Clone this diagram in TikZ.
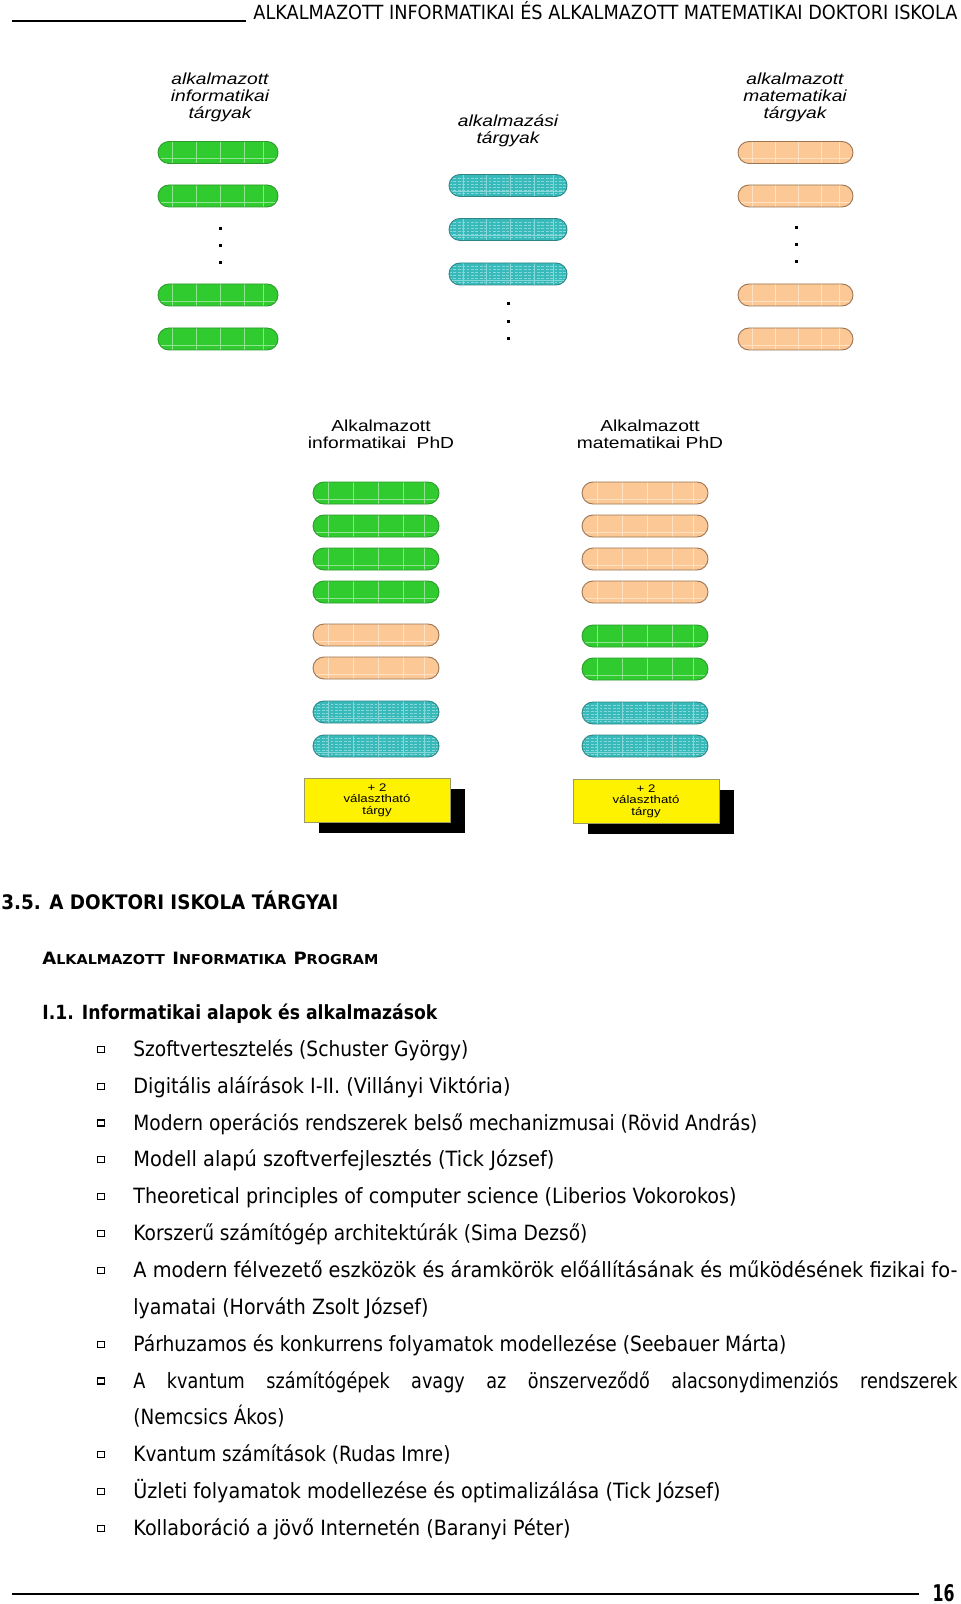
\documentclass[tikz,border=0pt]{standalone}
\usepackage{fontspec}
\usepackage{graphicx}
\usetikzlibrary{calc}
\setmainfont{DejaVu Sans}
\newfontfamily\bodyf{DejaVu Sans}[FakeStretch=0.84]
\newfontfamily\figf{Liberation Sans}[FakeStretch=1.2]
\newlength\pxu \setlength\pxu{0.5pt}
\newcommand\fitw[2]{\resizebox{#1\pxu}{\height}{#2}}
\newcommand\scpart[2]{{\fontsize{8.5}{10}\selectfont #1}{\fontsize{6.8}{8}\selectfont #2}}
\definecolor{pgreen}{HTML}{2FCB2F}
\definecolor{pgreenb}{HTML}{2E9A2E}
\definecolor{pgreenl}{HTML}{8FE48F}
\definecolor{pcyan}{HTML}{38BABA}
\definecolor{pcyanb}{HTML}{2F8585}
\definecolor{pcyanl}{HTML}{86D8D8}
\definecolor{ppeach}{HTML}{FBC896}
\definecolor{ppeachb}{HTML}{9C7452}
\definecolor{ppeachl}{HTML}{FFE2C4}
\definecolor{yboxb}{HTML}{9A9A66}
\newcommand\pillgrid[1]{%
  \foreach \f in {0.12,0.32,0.52,0.72,0.88}{%
    \draw[#1, line width=0.3pt] ($(path picture bounding box.south west)!\f!(path picture bounding box.south east)$) -- ($(path picture bounding box.north west)!\f!(path picture bounding box.north east)$);}
  \draw[#1, line width=0.3pt] ($(path picture bounding box.south west)!0.22!(path picture bounding box.north west)$) -- ($(path picture bounding box.south east)!0.22!(path picture bounding box.north east)$);}
\newcommand\cyantex{%
  \foreach \k in {0.14,0.28,0.42,0.56,0.70,0.84}{%
    \draw[pcyanl, line width=0.4pt, dash pattern=on 1.4pt off 0.8pt] ($(path picture bounding box.south west)!\k!(path picture bounding box.north west)$) -- ($(path picture bounding box.south east)!\k!(path picture bounding box.north east)$);}}
\tikzset{
  pill/.style={rectangle, rounded corners=5.5pt, minimum width=#1, minimum height=11pt, inner sep=0pt, line width=0.45pt},
  gpill/.style={pill=#1, fill=pgreen, draw=pgreenb, path picture={\pillgrid{pgreenl}}},
  gpill/.default=63pt,
  cpill/.style={pill=#1, fill=pcyan, draw=pcyanb, path picture={\cyantex\pillgrid{pcyanl}}},
  cpill/.default=63pt,
  ppill/.style={pill=#1, fill=ppeach, draw=ppeachb, path picture={\pillgrid{ppeachl}}},
  ppill/.default=63pt,
  toplab/.style={anchor=base, inner sep=0pt, font=\figf\itshape\fontsize{8}{9}\selectfont},
  midlab/.style={anchor=base, inner sep=0pt, font=\figf\fontsize{8}{9}\selectfont},
  dotmark/.style={fill=black, minimum size=1.5pt, inner sep=0pt, rectangle},
  shadowbox/.style={fill=black, minimum width=73pt, minimum height=22pt, inner sep=0pt},
  ybox/.style={fill=yellow, draw=yboxb, line width=0.5pt, minimum width=73pt, minimum height=22pt, inner sep=0pt, align=center, font=\figf\fontsize{5.5}{5.8}\selectfont},
  bodytxt/.style={anchor=base west, inner sep=0pt, font=\bodyf\fontsize{10.5}{12}\selectfont},
  headtxt/.style={anchor=base west, inner sep=0pt, font=\bodyf\bfseries\fontsize{10}{12}\selectfont},
  bul/.style={draw, line width=0.55pt, minimum width=3.3pt, minimum height=3pt, inner sep=0pt, rectangle},
  rule/.style={line width=0.8pt}
}
\begin{document}
\begin{tikzpicture}[x=0.5pt,y=-0.5pt]
\fill[white] (0,0) rectangle (960,1604);
\path[use as bounding box] (0,0) rectangle (960,1604);

% page header
\coordinate (hrA) at (12,21);
\coordinate (hrB) at (246,21);
\draw[rule] (hrA) -- (hrB);
\node[anchor=base west, inner sep=0pt, font=\bodyf\fontsize{9.75}{11}\selectfont] (hdr) at (253,20) {\fitw{704}{ALKALMAZOTT INFORMATIKAI ÉS ALKALMAZOTT MATEMATIKAI DOKTORI ISKOLA}};

% top column labels
\node[toplab] (tl1) at (220,85) {alkalmazott};
\node[toplab] (tl2) at (220,102) {informatikai};
\node[toplab] (tl3) at (220,119) {tárgyak};
\node[toplab] (tm1) at (508,127) {alkalmazási};
\node[toplab] (tm2) at (508,144) {tárgyak};
\node[toplab] (tr1) at (795,85) {alkalmazott};
\node[toplab] (tr2) at (795,102) {matematikai};
\node[toplab] (tr3) at (795,119) {tárgyak};

% top left column (green)
\node[gpill=60pt] (ag1) at (218,152.5) {};
\node[gpill=60pt] (ag2) at (218,196) {};
\node[dotmark] (agd1) at (220,229) {};
\node[dotmark] (agd2) at (220,246) {};
\node[dotmark] (agd3) at (220,263) {};
\node[gpill=60pt] (ag3) at (218,295) {};
\node[gpill=60pt] (ag4) at (218,339) {};

% top middle column (cyan)
\node[cpill=59pt] (ac1) at (508,185.5) {};
\node[cpill=59pt] (ac2) at (508,229.5) {};
\node[cpill=59pt] (ac3) at (508,274) {};
\node[dotmark] (acd1) at (508,304) {};
\node[dotmark] (acd2) at (508,322) {};
\node[dotmark] (acd3) at (508,339) {};

% top right column (peach)
\node[ppill=57.5pt] (ap1) at (795.5,152.5) {};
\node[ppill=57.5pt] (ap2) at (795.5,196) {};
\node[dotmark] (apd1) at (796,228) {};
\node[dotmark] (apd2) at (796,245) {};
\node[dotmark] (apd3) at (796,262) {};
\node[ppill=57.5pt] (ap3) at (795.5,295) {};
\node[ppill=57.5pt] (ap4) at (795.5,339) {};

% PhD labels
\node[midlab] (ml1) at (381,432) {Alkalmazott};
\node[midlab] (ml2) at (381,449) {informatikai\ \ PhD};
\node[midlab] (mr1) at (650,432) {Alkalmazott};
\node[midlab] (mr2) at (650,449) {matematikai PhD};

% PhD left column
\node[gpill] (li1) at (376,493) {};
\node[gpill] (li2) at (376,526) {};
\node[gpill] (li3) at (376,559) {};
\node[gpill] (li4) at (376,592) {};
\node[ppill] (li5) at (376,635) {};
\node[ppill] (li6) at (376,668) {};
\node[cpill] (li7) at (376,712) {};
\node[cpill] (li8) at (376,746) {};

% PhD right column
\node[ppill] (ri1) at (645,493) {};
\node[ppill] (ri2) at (645,526) {};
\node[ppill] (ri3) at (645,559) {};
\node[ppill] (ri4) at (645,592) {};
\node[gpill] (ri5) at (645,636) {};
\node[gpill] (ri6) at (645,669) {};
\node[cpill] (ri7) at (645,713) {};
\node[cpill] (ri8) at (645,746) {};

% elective boxes
\node[shadowbox] (lsh) at (392,811) {};
\node[ybox] (lyb) at (377,800) {+ 2\\választható\\tárgy};
\node[shadowbox] (rsh) at (661,812) {};
\node[ybox] (ryb) at (646,801) {+ 2\\választható\\tárgy};

% headings
\node[headtxt] (h35) at (1,909) {\fitw{337}{3.5. A DOKTORI ISKOLA TÁRGYAI}};
\node[headtxt] (hprog) at (42,964) {\fitw{336}{\scpart{A}{LKALMAZOTT} \scpart{I}{NFORMATIKA} \scpart{P}{ROGRAM}}};
\node[headtxt, font=\bodyf\bfseries\fontsize{9.75}{11}\selectfont] (h11) at (42,1019) {\fitw{395}{I.1. Informatikai alapok és alkalmazások}};

% course list
\node[bul] (b1) at (101,1049.3) {};
\node[bodytxt] (t1) at (133,1056.3) {\fitw{335}{Szoftvertesztelés (Schuster György)}};
\node[bul] (b2) at (101,1086.2) {};
\node[bodytxt] (t2) at (133,1093.2) {\fitw{377}{Digitális aláírások I-II. (Villányi Viktória)}};
\node[bul] (b3) at (101,1123.0) {};
\node[bodytxt] (t3) at (133,1130.0) {\fitw{624}{Modern operációs rendszerek belső mechanizmusai (Rövid András)}};
\node[bul] (b4) at (101,1159.9) {};
\node[bodytxt] (t4) at (133,1166.9) {\fitw{421}{Modell alapú szoftverfejlesztés (Tick József)}};
\node[bul] (b5) at (101,1196.7) {};
\node[bodytxt] (t5) at (133,1203.7) {\fitw{603}{Theoretical principles of computer science (Liberios Vokorokos)}};
\node[bul] (b6) at (101,1233.6) {};
\node[bodytxt] (t6) at (133,1240.6) {\fitw{454}{Korszerű számítógép architektúrák (Sima Dezső)}};
\node[bul] (b7) at (101,1270.4) {};
\node[bodytxt] (t7) at (133,1277.4) {\fitw{824}{A modern félvezető eszközök és áramkörök előállításának és működésének fizikai fo-}};
\node[bodytxt] (t7b) at (133,1314.3) {\fitw{295}{lyamatai (Horváth Zsolt József)}};
\node[bul] (b8) at (101,1344.1) {};
\node[bodytxt] (t8) at (133,1351.1) {\fitw{653}{Párhuzamos és konkurrens folyamatok modellezése (Seebauer Márta)}};
\node[bul] (b9) at (101,1381.0) {};
\node[bodytxt] (t9) at (133,1388.0) {\makebox[412pt][s]{A kvantum számítógépek avagy az önszerveződő alacsonydimenziós rendszerek}};
\node[bodytxt] (t9b) at (133,1424.8) {\fitw{151}{(Nemcsics Ákos)}};
\node[bul] (b10) at (101,1454.7) {};
\node[bodytxt] (t10) at (133,1461.7) {\fitw{317}{Kvantum számítások (Rudas Imre)}};
\node[bul] (b11) at (101,1491.5) {};
\node[bodytxt] (t11) at (133,1498.5) {\fitw{587}{Üzleti folyamatok modellezése és optimalizálása (Tick József)}};
\node[bul] (b12) at (101,1528.4) {};
\node[bodytxt] (t12) at (133,1535.4) {\fitw{437}{Kollaboráció a jövő Internetén (Baranyi Péter)}};

% footer
\coordinate (frA) at (12,1594);
\coordinate (frB) at (919,1594);
\draw[rule] (frA) -- (frB);
\node[anchor=base east, inner sep=0pt, font=\bodyf\bfseries\fontsize{11.5}{13}\selectfont] (pg) at (955,1601.5) {\fitw{22}{16}};
\end{tikzpicture}
\end{document}
